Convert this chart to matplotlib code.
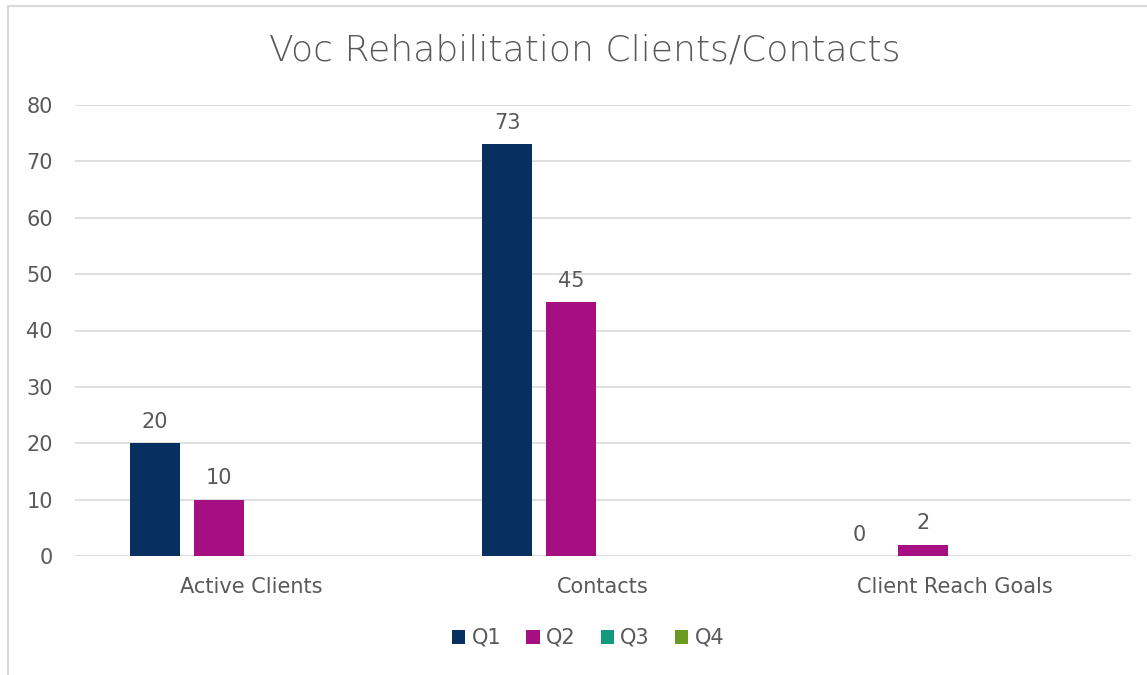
import matplotlib
matplotlib.use("Agg")
import matplotlib.pyplot as plt
import numpy as np
from matplotlib.patches import Rectangle

categories = ["Active Clients", "Contacts", "Client Reach Goals"]
series_names = ["Q1", "Q2", "Q3", "Q4"]
q1 = [20, 73, 0]
q2 = [10, 45, 2]
q3 = [None, None, None]
q4 = [None, None, None]
colors = ["#072F5F", "#A50F81", "#139A7E", "#6A9B20"]
yticks = [0, 10, 20, 30, 40, 50, 60, 70, 80]

plt.rcParams['font.family'] = ['DejaVu Sans']
txt = "#595959"

fig = plt.figure(figsize=(11.47, 6.75), dpi=100)
fig.add_artist(Rectangle((8/1147, -0.1), 1.2, 1.1 - 6/675, transform=fig.transFigure,
                         fill=False, edgecolor="#D9D9D9", linewidth=1.5))
ax = fig.add_axes([75/1147, 1 - 556/675, (1131 - 75)/1147, (556 - 105)/675])

x = np.arange(len(categories))
bw = 50/352
step = 64/352
all_series = [q1, q2, q3, q4]
for i, (name, vals, c) in enumerate(zip(series_names, all_series, colors)):
    off = (i - 1.5) * step
    h = [v if v is not None else 0 for v in vals]
    bars = ax.bar(x + off, h, width=bw, color=c, label=name, zorder=3)
    for b, v in zip(bars, vals):
        if v is not None:
            ax.text(b.get_x() + b.get_width()/2, v + 2.0, f"{v}", ha="center", va="bottom",
                    fontsize=15, color=txt)

ax.set_xlim(-0.5, 2.5)
ax.set_ylim(0, 80)
ax.set_yticks(yticks)
ax.set_xticks(x)
ax.set_xticklabels(categories)
ax.tick_params(axis="both", length=0, labelsize=15, labelcolor=txt)
ax.tick_params(axis="x", pad=15)
ax.tick_params(axis="y", pad=16)
ax.yaxis.grid(True, color="#D9D9D9", linewidth=1.2, zorder=0)
for s in ax.spines.values():
    s.set_visible(False)
ax.axhline(0, color="#D9D9D9", linewidth=1.2, zorder=2)

fig.text(585/1147, 1 - 51/675, "Voc Rehabilitation Clients/Contacts", ha="center", va="center",
         fontsize=26, color=txt, fontweight="light")

leg = fig.legend(loc="center", bbox_to_anchor=(588/1147, 1 - 638/675), ncol=4, frameon=False,
                 fontsize=15, handlelength=0.65, handleheight=0.65, handletextpad=0.3,
                 columnspacing=1.2, labelcolor=txt)

fig.savefig("out.png", dpi=100, facecolor="white")
